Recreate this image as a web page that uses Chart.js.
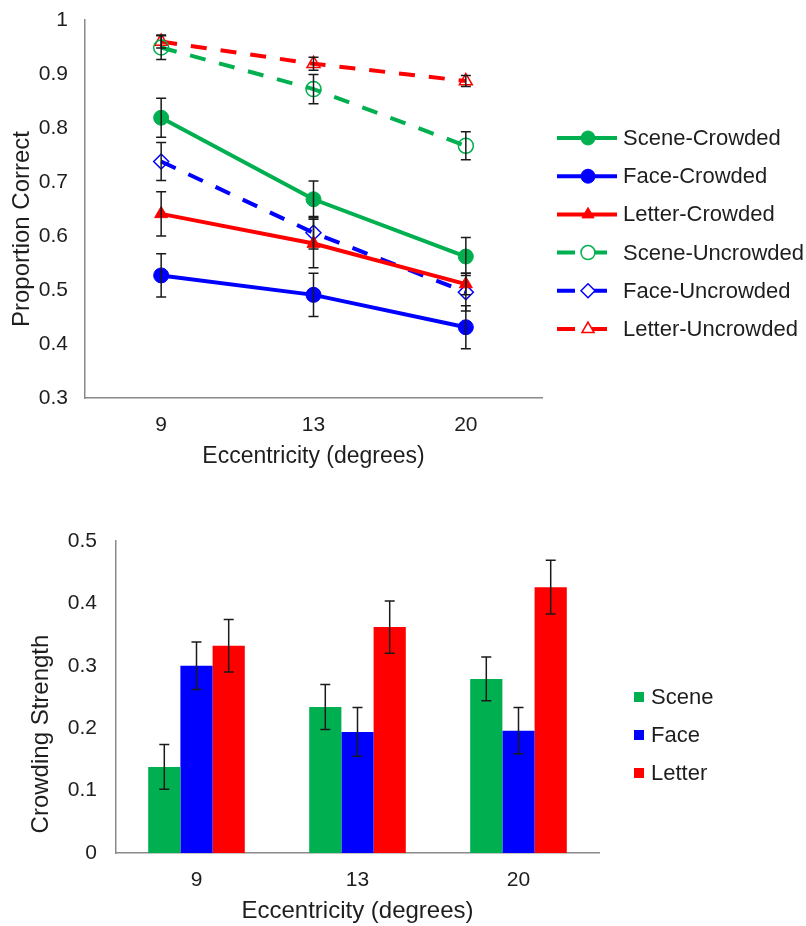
<!DOCTYPE html>
<html>
<head>
<meta charset="utf-8">
<script src="https://cdn.jsdelivr.net/npm/chart.js"></script>
<style>
  html, body { margin: 0; padding: 0; background: #fff; }
  canvas { display: block; }
</style>
</head>
<body>
<canvas id="lineChart" width="806" height="470"></canvas>
<canvas id="barChart" width="806" height="456"></canvas>
<script>
// ---- data ----
const eccentricity = ['9', '13', '20'];

const sceneCrowded = [0.819, 0.668, 0.562];
const faceCrowded = [0.527, 0.491, 0.431];
const letterCrowded = [0.641, 0.586, 0.511];
const sceneUncrowded = [0.949, 0.872, 0.767];
const faceUncrowded = [0.738, 0.606, 0.496];
const letterUncrowded = [0.960, 0.919, 0.887];

const sceneCrowdedErr = [0.036, 0.034, 0.035];
const faceCrowdedErr = [0.040, 0.040, 0.040];
const letterCrowdedErr = [0.041, 0.045, 0.020];
const sceneUncrowdedErr = [0.022, 0.027, 0.026];
const faceUncrowdedErr = [0.035, 0.030, 0.035];
const letterUncrowdedErr = [0.012, 0.012, 0.010];

const crowdingCategories = ['Scene', 'Face', 'Letter'];
const sceneStrength = [0.138, 0.234, 0.279];
const faceStrength = [0.300, 0.194, 0.196];
const letterStrength = [0.332, 0.362, 0.426];
const sceneStrengthErr = [0.036, 0.036, 0.035];
const faceStrengthErr = [0.038, 0.039, 0.037];
const letterStrengthErr = [0.042, 0.042, 0.043];

const GREEN = '#00b050';
const BLUE = '#0000ff';
const RED = '#ff0000';
const FONT = "'Liberation Sans', Arial, sans-serif";
const TEXT = '#1e1e1e';
const AXIS = '#8a8a8a';

// error bars drawn through each chart's own scales
const errorBars = {
  id: 'errorBars',
  afterDatasetsDraw(chart, args, opts) {
    const ctx = chart.ctx;
    const yScale = chart.scales.y;
    ctx.save();
    ctx.strokeStyle = '#1a1a1a';
    ctx.lineWidth = 1.5;
    chart.data.datasets.forEach((ds, i) => {
      if (!ds.errors) return;
      const meta = chart.getDatasetMeta(i);
      meta.data.forEach((el, j) => {
        const v = ds.data[j], e = ds.errors[j];
        const x = el.x;
        const yTop = yScale.getPixelForValue(v + e);
        const yBot = yScale.getPixelForValue(v - e);
        const cap = opts.cap || 5;
        ctx.beginPath();
        ctx.moveTo(x, yTop); ctx.lineTo(x, yBot);
        ctx.moveTo(x - cap, yTop); ctx.lineTo(x + cap, yTop);
        ctx.moveTo(x - cap, yBot); ctx.lineTo(x + cap, yBot);
        ctx.stroke();
      });
    });
    ctx.restore();
  }
};

// rotated y axis title, placed a bit below the middle like the original
const yTitle = {
  id: 'yTitle',
  afterDraw(chart, args, opts) {
    const { ctx, chartArea } = chart;
    ctx.save();
    ctx.translate(chartArea.left + opts.dx, chartArea.top + opts.dy);
    ctx.rotate(-Math.PI / 2);
    ctx.fillStyle = TEXT;
    ctx.font = '24px ' + FONT;
    ctx.textAlign = 'center';
    ctx.textBaseline = 'middle';
    ctx.fillText(opts.text, 0, 0);
    ctx.restore();
  }
};

function drawMarker(ctx, style, r, x, y, color, open) {
  ctx.save();
  ctx.fillStyle = open ? '#fff' : color;
  ctx.strokeStyle = color;
  ctx.lineWidth = open ? 1.5 : 1;
  Chart.helpers.drawPoint(ctx, { pointStyle: style, radius: r, borderWidth: ctx.lineWidth, rotation: 0 }, x, y);
  ctx.restore();
}

const lineLegend = {
  id: 'lineLegend',
  afterDraw(chart) {
    const { ctx, chartArea } = chart;
    ctx.save();
    chart.data.datasets.forEach((ds, i) => {
      const y = chartArea.top + 118 + i * 38.2;
      const x0 = chartArea.right + 15;
      ctx.strokeStyle = ds.borderColor;
      ctx.lineWidth = 4;
      ctx.beginPath();
      if (ds.borderDash) {
        ctx.moveTo(x0, y); ctx.lineTo(x0 + 18, y);
        ctx.moveTo(x0 + 35, y); ctx.lineTo(x0 + 50, y);
      } else {
        ctx.moveTo(x0, y); ctx.lineTo(x0 + 60, y);
      }
      ctx.stroke();
      drawMarker(ctx, ds.pointStyle, 7, x0 + 31, y, ds.borderColor, ds.openMarker);
      ctx.fillStyle = TEXT;
      ctx.font = '22px ' + FONT;
      ctx.textBaseline = 'middle';
      ctx.textAlign = 'left';
      ctx.fillText(ds.label, x0 + 66, y + 1);
    });
    ctx.restore();
  }
};

const boxLegend = {
  id: 'boxLegend',
  afterDraw(chart) {
    const { ctx, chartArea } = chart;
    ctx.save();
    chart.data.datasets.forEach((ds, i) => {
      const y = chartArea.top + 156 + i * 38;
      const x0 = chartArea.right + 35;
      ctx.fillStyle = ds.backgroundColor;
      ctx.fillRect(x0, y - 5, 10, 10);
      ctx.fillStyle = TEXT;
      ctx.font = '22px ' + FONT;
      ctx.textBaseline = 'middle';
      ctx.textAlign = 'left';
      ctx.fillText(ds.label, x0 + 17, y + 1);
    });
    ctx.restore();
  }
};

function lineSet(label, data, errors, color, style, dashed, open) {
  return {
    label: label,
    data: data,
    errors: errors,
    borderColor: color,
    backgroundColor: color,
    borderWidth: 4,
    borderDash: dashed ? [16, 14] : undefined,
    pointStyle: style,
    pointRadius: 7.5,
    pointBackgroundColor: open ? 'rgba(0,0,0,0)' : color,
    pointBorderColor: color,
    pointBorderWidth: open ? 1.5 : 1,
    openMarker: open,
    tension: 0,
    fill: false
  };
}

const tickFont = { family: FONT, size: 21 };

new Chart(document.getElementById('lineChart'), {
  type: 'line',
  data: {
    labels: eccentricity,
    datasets: [
      lineSet('Scene-Crowded', sceneCrowded, sceneCrowdedErr, GREEN, 'circle', false, false),
      lineSet('Face-Crowded', faceCrowded, faceCrowdedErr, BLUE, 'circle', false, false),
      lineSet('Letter-Crowded', letterCrowded, letterCrowdedErr, RED, 'triangle', false, false),
      lineSet('Scene-Uncrowded', sceneUncrowded, sceneUncrowdedErr, GREEN, 'circle', true, true),
      lineSet('Face-Uncrowded', faceUncrowded, faceUncrowdedErr, BLUE, 'rectRot', true, true),
      lineSet('Letter-Uncrowded', letterUncrowded, letterUncrowdedErr, RED, 'triangle', true, true)
    ]
  },
  options: {
    responsive: false,
    animation: false,
    devicePixelRatio: 1,
    layout: { padding: { top: 20, right: 264, left: 0, bottom: 0 } },
    scales: {
      x: {
        offset: true,
        grid: { display: false, drawTicks: false },
        border: { display: true, color: AXIS, width: 1.5 },
        ticks: { color: TEXT, font: tickFont, padding: 15 },
        title: { display: true, text: 'Eccentricity (degrees)', color: TEXT, font: { family: FONT, size: 23 }, padding: { top: 0, bottom: 0 } },
        afterFit(scale) { scale.height = 72; }
      },
      y: {
        min: 0.3,
        max: 1,
        grid: { display: false, drawTicks: false },
        border: { display: true, color: AXIS, width: 1.5 },
        ticks: { stepSize: 0.1, color: TEXT, font: tickFont, padding: 17,
          callback: v => String(Number(v.toFixed(1))) },
        afterFit(scale) { scale.width = 85; scale.paddingTop = 0; scale.paddingBottom = 0; }
      }
    },
    plugins: {
      legend: { display: false },
      tooltip: { enabled: false },
      errorBars: { cap: 5 },
      yTitle: { text: 'Proportion Correct', dx: -63, dy: 209 }
    }
  },
  plugins: [errorBars, lineLegend, yTitle]
});

new Chart(document.getElementById('barChart'), {
  type: 'bar',
  data: {
    labels: eccentricity,
    datasets: [
      { label: crowdingCategories[0], data: sceneStrength, errors: sceneStrengthErr, backgroundColor: GREEN },
      { label: crowdingCategories[1], data: faceStrength, errors: faceStrengthErr, backgroundColor: BLUE },
      { label: crowdingCategories[2], data: letterStrength, errors: letterStrengthErr, backgroundColor: RED }
    ]
  },
  options: {
    responsive: false,
    animation: false,
    devicePixelRatio: 1,
    layout: { padding: { top: 71, right: 207, left: 0, bottom: 0 } },
    datasets: { bar: { barPercentage: 1, categoryPercentage: 0.6 } },
    scales: {
      x: {
        grid: { display: false, drawTicks: false },
        border: { display: true, color: AXIS, width: 1.5 },
        ticks: { color: TEXT, font: tickFont, padding: 15 },
        title: { display: true, text: 'Eccentricity (degrees)', color: TEXT, font: { family: FONT, size: 24 }, padding: { top: 0, bottom: 0 } },
        afterFit(scale) { scale.height = 73; }
      },
      y: {
        min: 0,
        max: 0.5,
        grid: { display: false, drawTicks: false },
        border: { display: true, color: AXIS, width: 1.5 },
        ticks: { stepSize: 0.1, color: TEXT, font: tickFont, padding: 19,
          callback: v => String(Number(v.toFixed(1))) },
        afterFit(scale) { scale.width = 116; scale.paddingTop = 0; scale.paddingBottom = 0; }
      }
    },
    plugins: {
      legend: { display: false },
      tooltip: { enabled: false },
      errorBars: { cap: 5 },
      yTitle: { text: 'Crowding Strength', dx: -75, dy: 193 }
    }
  },
  plugins: [errorBars, boxLegend, yTitle]
});
</script>
</body>
</html>
